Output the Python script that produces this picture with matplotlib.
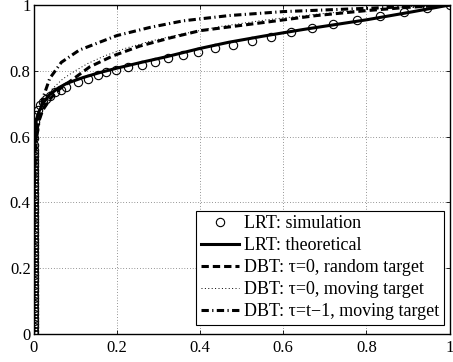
import matplotlib
matplotlib.use("Agg")
import matplotlib.pyplot as plt

plt.rcParams['font.family'] = ['Liberation Serif', 'DejaVu Serif']

# ------------------- data -------------------
# LRT: simulation (circles) - the dense stack on the y axis first, then the bend
sim_x = [0, 0, 0, 0, 0, 0, 0, 0, 0, 0, 0, 0, 0, 0, 0, 0, 0, 0, 0, 0,
         0, 0, 0, 0, 0, 0, 0, 0, 0, 0, 0, 0, 0, 0, 0, 0, 0, 0, 0, 0,
         0, 0, 0, 0, 0, 0, 0, 0, 0, 0, 0, 0, 0, 0, 0, 0, 0,
         0.0005, 0.001, 0.002, 0.004, 0.007, 0.011, 0.016, 0.022, 0.03, 0.04, 0.052, 0.065,
         0.079, 0.107, 0.131, 0.155, 0.175, 0.199, 0.227, 0.260, 0.292, 0.324, 0.360,
         0.396, 0.437, 0.48, 0.525, 0.57, 0.62, 0.67, 0.72, 0.778, 0.834, 0.89, 0.946, 1.0]
sim_y = [0, 0.01, 0.02, 0.03, 0.04, 0.05, 0.06, 0.07, 0.08, 0.09, 0.10, 0.11, 0.12,
         0.13, 0.14, 0.15, 0.16, 0.17, 0.18, 0.19, 0.20, 0.21, 0.22, 0.23, 0.24, 0.25,
         0.26, 0.27, 0.28, 0.29, 0.30, 0.31, 0.32, 0.33, 0.34, 0.35, 0.36, 0.37, 0.38,
         0.39, 0.40, 0.41, 0.42, 0.43, 0.44, 0.45, 0.46, 0.47, 0.48, 0.49, 0.50, 0.51,
         0.52, 0.53, 0.54, 0.55, 0.56,
         0.575, 0.595, 0.62, 0.645, 0.665, 0.68, 0.695, 0.705, 0.715, 0.725, 0.735, 0.743,
         0.751, 0.766, 0.776, 0.787, 0.795, 0.802, 0.812, 0.819, 0.828, 0.838, 0.848,
         0.858, 0.869, 0.88, 0.892, 0.904, 0.917, 0.929, 0.941, 0.955, 0.968, 0.98, 0.99, 1.0]

# LRT: theoretical (solid)
lrt_x = [0, 0.0005, 0.001, 0.0024, 0.005, 0.01, 0.0145, 0.025, 0.039, 0.06, 0.08, 0.12,
         0.16, 0.2, 0.26, 0.32, 0.4, 0.47, 0.55, 0.65, 0.8, 0.9, 1.0]
lrt_y = [0, 0.45, 0.55, 0.61, 0.64, 0.665, 0.68, 0.705, 0.728, 0.748, 0.762, 0.78,
         0.795, 0.808, 0.826, 0.843, 0.868, 0.887, 0.905, 0.926, 0.955, 0.977, 1.0]

# DBT: tau=0, random target (dashed)
rand_x = [0, 0.002, 0.004, 0.008, 0.015, 0.022, 0.04, 0.063, 0.106, 0.135, 0.19, 0.255,
          0.328, 0.40, 0.48, 0.56, 0.68, 0.8, 0.9, 1.0]
rand_y = [0, 0.45, 0.56, 0.62, 0.655, 0.68, 0.715, 0.745, 0.785, 0.812, 0.845, 0.875,
          0.9, 0.922, 0.935, 0.948, 0.968, 0.983, 0.993, 1.0]

# DBT: tau=0, moving target (dotted)
mov_x = [0, 0.001, 0.003, 0.008, 0.015, 0.025, 0.045, 0.07, 0.1, 0.13, 0.17, 0.22,
         0.28, 0.35, 0.45, 0.56, 0.68, 0.8, 0.9, 1.0]
mov_y = [0, 0.47, 0.58, 0.64, 0.68, 0.71, 0.745, 0.775, 0.8, 0.822, 0.845, 0.868,
         0.89, 0.91, 0.935, 0.955, 0.972, 0.986, 0.995, 1.0]

# DBT: tau=t-1, moving target (dash-dot)
prev_x = [0, 0.002, 0.005, 0.009, 0.015, 0.022, 0.039, 0.067, 0.11, 0.159, 0.2, 0.28,
          0.36, 0.47, 0.6, 0.8, 0.9, 1.0]
prev_y = [0, 0.45, 0.56, 0.61, 0.66, 0.715, 0.777, 0.826, 0.863, 0.887, 0.907, 0.932,
          0.952, 0.968, 0.98, 0.99, 0.995, 1.0]

ticks = [0, 0.2, 0.4, 0.6, 0.8, 1]
tick_labels = ['0', '0.2', '0.4', '0.6', '0.8', '1']

# ------------------- plot -------------------
fig = plt.figure(figsize=(4.53, 3.62), dpi=100)
ax = fig.add_axes([0.0740, 0.0773, 0.9183, 0.9088])

ax.plot(sim_x, sim_y, linestyle='none', marker='o', markersize=6,
        markerfacecolor='none', markeredgecolor='k', markeredgewidth=0.8,
        label='LRT: simulation')
ax.plot(lrt_x, lrt_y, color='k', lw=2.2, label='LRT: theoretical')
ax.plot(rand_x, rand_y, color='k', lw=2.2, linestyle=(0, (2.4, 1.3)),
        label='DBT: τ=0, random target')
ax.plot(mov_x, mov_y, color='k', lw=0.7, linestyle=(0, (1, 2.5)),
        label='DBT: τ=0, moving target')
ax.plot(prev_x, prev_y, color='k', lw=2.2, linestyle=(0, (2.4, 1.1, 0.4, 1.1)),
        label='DBT: τ=t\u22121, moving target')

ax.set_xlim(0, 1)
ax.set_ylim(0, 1)
ax.set_xticks(ticks)
ax.set_xticklabels(tick_labels)
ax.set_yticks(ticks)
ax.set_yticklabels(tick_labels)
ax.tick_params(direction='in', top=True, right=True, length=3, width=0.6,
               labelsize=12, pad=2)
ax.tick_params(axis='x', pad=4)
ax.grid(True, color='k', linestyle=(0, (1, 3)), linewidth=0.5, alpha=0.8)
for sp in ax.spines.values():
    sp.set_linewidth(1.0)

leg = ax.legend(loc='lower right', bbox_to_anchor=(0.986, 0.028), borderaxespad=0,
                fontsize=13, fancybox=False, framealpha=1, edgecolor='k',
                handlelength=2.1, handletextpad=0.28, labelspacing=0.28,
                borderpad=0.25)
leg.get_frame().set_linewidth(0.8)

fig.savefig('out.png', dpi=100)
